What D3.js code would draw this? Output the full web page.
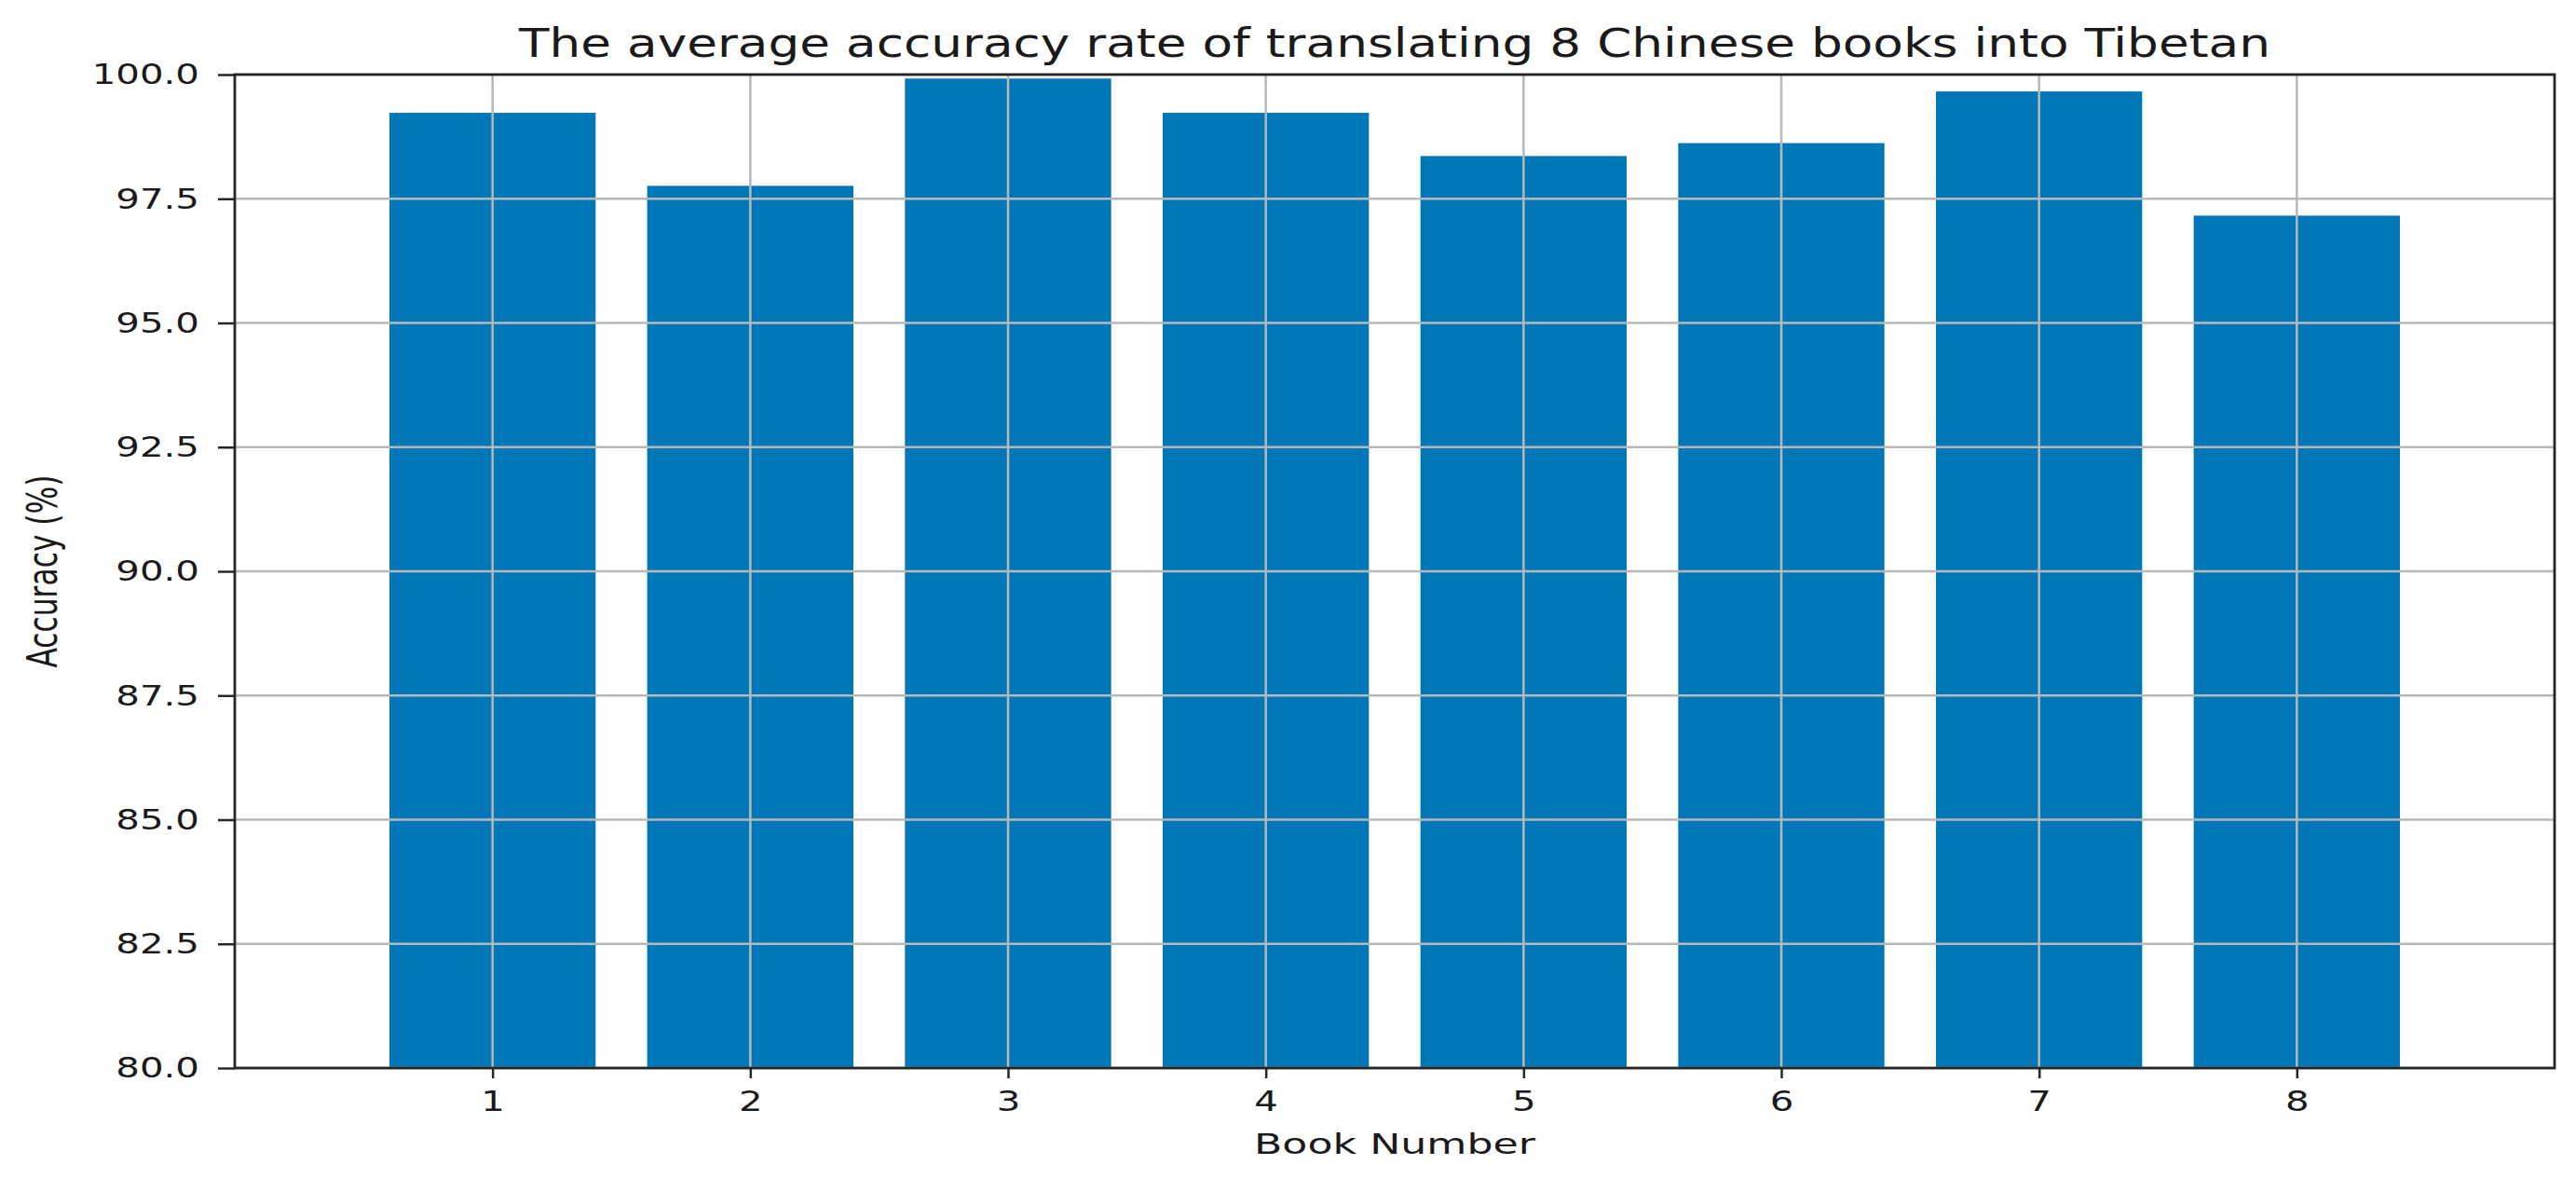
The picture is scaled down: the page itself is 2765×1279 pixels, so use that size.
<!DOCTYPE html>
<html>
<head>
<meta charset="utf-8">
<script src="https://cdn.jsdelivr.net/npm/d3@7"></script>
<style>
  html, body { margin: 0; padding: 0; background: #ffffff; }
  svg { display: block; }
  text { font-family: "DejaVu Sans", sans-serif; fill: #1a1a1a; }
</style>
</head>
<body>
<svg id="chart" width="2765" height="1279"></svg>
<script>
// ---- data ----
const books = [1, 2, 3, 4, 5, 6, 7, 8];
const accuracy = [99.23, 97.76, 99.92, 99.23, 98.36, 98.62, 99.66, 97.16];
const yTicks = [80.0, 82.5, 85.0, 87.5, 90.0, 92.5, 95.0, 97.5, 100.0];
const titleText = "The average accuracy rate of translating 8 Chinese books into Tibetan";
const xLabelText = "Book Number";
const yLabelText = "Accuracy (%)";

// ---- layout ----
const W = 2765, H = 1279;
const plot = { left: 252, right: 2742, top: 80, bottom: 1146 };
const stretch = 1.3;
const barColor = "#0077b6";
const gridColor = "#b8b8b8";
const axisColor = "#262626";

const svg = d3.select("#chart");

const x = d3.scaleLinear().domain([0, 9]).range([plot.left, plot.right]);
const y = d3.scaleLinear().domain([80, 100]).range([plot.bottom, plot.top]);

// bars
svg.append("g").selectAll("rect")
  .data(books)
  .join("rect")
  .attr("x", (d) => x(d - 0.4))
  .attr("width", (d) => x(d + 0.4) - x(d - 0.4))
  .attr("y", (d, i) => y(accuracy[i]))
  .attr("height", (d, i) => y(80) - y(accuracy[i]))
  .attr("fill", barColor);

// grid (drawn above bars, like the reference)
const grid = svg.append("g");
grid.selectAll("line.v")
  .data(books)
  .join("line")
  .attr("class", "v")
  .attr("x1", (d) => x(d)).attr("x2", (d) => x(d))
  .attr("y1", plot.top).attr("y2", plot.bottom)
  .attr("stroke", gridColor).attr("stroke-width", 2.5);
grid.selectAll("line.h")
  .data(yTicks)
  .join("line")
  .attr("class", "h")
  .attr("x1", plot.left).attr("x2", plot.right)
  .attr("y1", (d) => y(d)).attr("y2", (d) => y(d))
  .attr("stroke", gridColor).attr("stroke-width", 2.5);

// axes
const xAxis = d3.axisBottom(x).tickValues(books).tickFormat(d3.format("d"))
  .tickSize(11).tickPadding(13);
const yAxis = d3.axisLeft(y).tickValues(yTicks).tickFormat(d3.format(".1f"))
  .tickSize(18).tickPadding(20);

const gx = svg.append("g").attr("transform", `translate(0,${plot.bottom})`).call(xAxis);
const gy = svg.append("g").attr("transform", `translate(${plot.left},0)`).call(yAxis);

[gx, gy].forEach((g) => {
  g.select(".domain").remove();
  g.selectAll(".tick line").attr("stroke", axisColor).attr("stroke-width", 2.5);
  g.selectAll(".tick text")
    .style("font-family", "'DejaVu Sans', sans-serif")
    .style("font-size", "31px")
    .attr("fill", "#1a1a1a");
});

// spines box
svg.append("rect")
  .attr("x", plot.left).attr("y", plot.top)
  .attr("width", plot.right - plot.left).attr("height", plot.bottom - plot.top)
  .attr("fill", "none").attr("stroke", axisColor).attr("stroke-width", 2.8);

// horizontal stretch of tick labels
svg.selectAll(".tick text").each(function () {
  const len = this.getComputedTextLength();
  d3.select(this).attr("textLength", len * stretch).attr("lengthAdjust", "spacingAndGlyphs");
});

// title
svg.append("text")
  .attr("x", (plot.left + plot.right) / 2)
  .attr("y", 61)
  .attr("text-anchor", "middle")
  .style("font-size", "42px")
  .attr("textLength", 1880)
  .attr("lengthAdjust", "spacingAndGlyphs")
  .text(titleText);

// x label
svg.append("text")
  .attr("x", (plot.left + plot.right) / 2)
  .attr("y", 1238)
  .attr("text-anchor", "middle")
  .style("font-size", "31px")
  .attr("textLength", 302)
  .attr("lengthAdjust", "spacingAndGlyphs")
  .text(xLabelText);

// y label
svg.append("text")
  .attr("transform", `translate(61,${(plot.top + plot.bottom) / 2}) scale(1.5,1) rotate(-90)`)
  .attr("text-anchor", "middle")
  .style("font-size", "30px")
  .attr("textLength", 207)
  .attr("lengthAdjust", "spacingAndGlyphs")
  .text(yLabelText);
</script>
</body>
</html>
